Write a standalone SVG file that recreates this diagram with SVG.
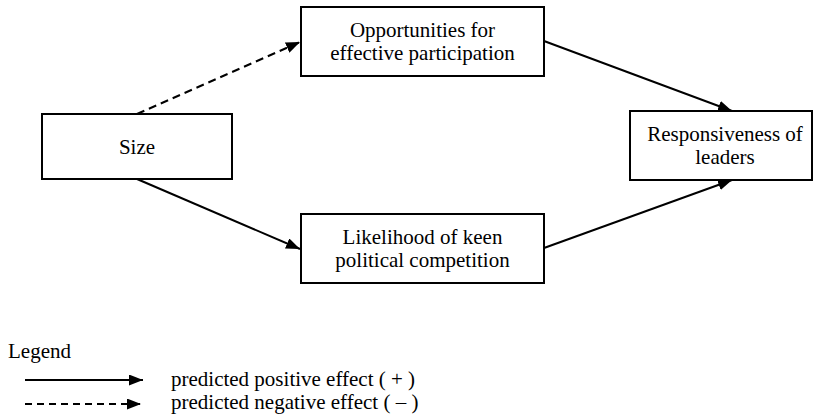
<svg xmlns="http://www.w3.org/2000/svg" width="813" height="415" viewBox="0 0 813 415">
<style>
  .box { fill: #fff; stroke: #000; stroke-width: 2; }
  .lbl { font-family: 'Liberation Serif', 'Times New Roman', serif; font-size: 21px; fill: #000; text-anchor: middle; }
  .leg { font-family: 'Liberation Serif', 'Times New Roman', serif; font-size: 21px; fill: #000; }
  .edge { stroke: #000; stroke-width: 2; fill: none; marker-end: url(#ah); }
  .dash { stroke-dasharray: 8 5; }
</style>
<defs>
  <marker id="ah" markerUnits="userSpaceOnUse" markerWidth="15" markerHeight="11" refX="14" refY="5.5" orient="auto">
    <path d="M0,0 L14,5.5 L0,11 z" fill="#000"/>
  </marker>
</defs>
<rect width="813" height="415" fill="#fff"/>
<g id="connectors">
  <line class="edge dash" x1="137" y1="114" x2="300" y2="42"/>
  <line class="edge" x1="137" y1="179" x2="300" y2="249"/>
  <line class="edge" x1="544" y1="41" x2="732" y2="111"/>
  <line class="edge" x1="544" y1="248" x2="732" y2="180"/>
</g>
<g id="size">
  <rect class="box" x="42" y="114" width="190" height="65"/>
  <text class="lbl" x="137" y="154">Size</text>
</g>
<g id="opportunities">
  <rect class="box" x="301" y="7" width="243" height="69"/>
  <text class="lbl" x="422.5" y="37">Opportunities for</text>
  <text class="lbl" x="422.5" y="60">effective participation</text>
</g>
<g id="likelihood">
  <rect class="box" x="301" y="214" width="243" height="69"/>
  <text class="lbl" x="422.5" y="244">Likelihood of keen</text>
  <text class="lbl" x="422.5" y="267">political competition</text>
</g>
<g id="responsiveness">
  <rect class="box" x="630" y="111" width="182" height="69"/>
  <text class="lbl" x="725" y="141">Responsiveness of</text>
  <text class="lbl" x="725" y="164">leaders</text>
</g>
<g id="legend">
  <text class="leg" x="8" y="358">Legend</text>
  <line class="edge" x1="25" y1="380" x2="143" y2="380"/>
  <text class="leg" x="171" y="386">predicted positive effect ( + )</text>
  <line class="edge" x1="25" y1="404" x2="141" y2="404" stroke-dasharray="7 5"/>
  <text class="leg" x="171" y="409">predicted negative effect ( – )</text>
</g>
</svg>
